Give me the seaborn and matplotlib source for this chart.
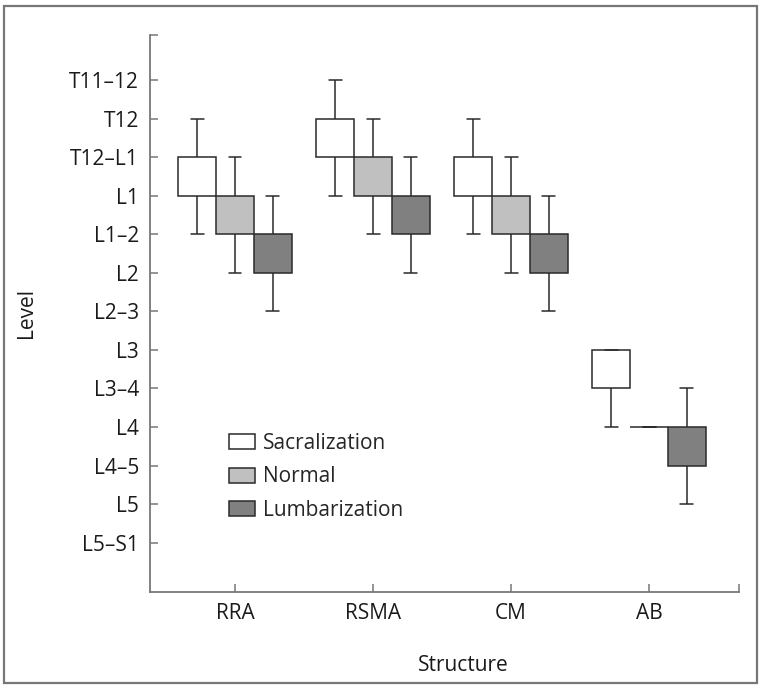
import numpy as np
import pandas as pd
import matplotlib.pyplot as plt
import seaborn as sns

LEVELS = ["T11–12", "T12", "T12–L1", "L1", "L1–2", "L2", "L2–3",
          "L3", "L3–4", "L4", "L4–5", "L5", "L5–S1"]
STRUCTURES = ["RRA", "RSMA", "CM", "AB"]
GROUPS = ["Sacralization", "Normal", "Lumbarization"]
COLORS = ["#ffffff", "#c0c0c0", "#808080"]

# per structure: upper whisker end, box top, box bottom, lower whisker end
sac_whisker_top = ["T12", "T11–12", "T12", "L3"]
sac_box_top = ["T12–L1", "T12", "T12–L1", "L3"]
sac_box_bottom = ["L1", "T12–L1", "L1", "L3–4"]
sac_whisker_bottom = ["L1–2", "L1", "L1–2", "L4"]

norm_whisker_top = ["T12–L1", "T12", "T12–L1", "L4"]
norm_box_top = ["L1", "T12–L1", "L1", "L4"]
norm_box_bottom = ["L1–2", "L1", "L1–2", "L4"]
norm_whisker_bottom = ["L2", "L1–2", "L2", "L4"]

lumb_whisker_top = ["L1", "T12–L1", "L1", "L3–4"]
lumb_box_top = ["L1–2", "L1", "L1–2", "L4"]
lumb_box_bottom = ["L2", "L1–2", "L2", "L4–5"]
lumb_whisker_bottom = ["L2–3", "L2", "L2–3", "L5"]

group_stats = {
    "Sacralization": (sac_whisker_top, sac_box_top, sac_box_bottom, sac_whisker_bottom),
    "Normal": (norm_whisker_top, norm_box_top, norm_box_bottom, norm_whisker_bottom),
    "Lumbarization": (lumb_whisker_top, lumb_box_top, lumb_box_bottom, lumb_whisker_bottom),
}

# rows whose quartiles / extremes reproduce the summary values above
rows = []
for g in GROUPS:
    wt, bt, bb, wb = group_stats[g]
    for i, s in enumerate(STRUCTURES):
        lo, q1, q3, hi = [LEVELS.index(v) for v in (wt[i], bt[i], bb[i], wb[i])]
        for v in (lo, q1, q1, q3, q3, hi):
            rows.append({"Structure": s, "Group": g, "Level": v})
df = pd.DataFrame(rows)

sns.set_style("white")
plt.rcParams["font.family"] = ["Open Sans", "DejaVu Sans"]

fig = plt.figure(figsize=(7.63, 6.88), dpi=100)
ax = fig.add_axes([150 / 763, 1 - 592 / 688, 589 / 763, 557 / 688])

sns.boxplot(data=df, x="Structure", y="Level", hue="Group", order=STRUCTURES,
            hue_order=GROUPS, palette=COLORS, saturation=1, width=0.82, gap=0,
            whis=(0, 100), showfliers=False, linecolor="#2a2a2a", linewidth=1.1,
            medianprops={"visible": False}, ax=ax)

# shorter caps like the reference
for ln in ax.lines:
    x = np.asarray(ln.get_xdata(), dtype=float)
    y = np.asarray(ln.get_ydata(), dtype=float)
    if len(x) == 2 and y[0] == y[1] and x[0] != x[1]:
        c = x.mean()
        ln.set_xdata([c - 0.047, c + 0.047])

ymin, ymax = -1.167, 13.28
ax.set_ylim(ymax, ymin)
ax.set_yticks([ymin] + list(range(len(LEVELS))))
ax.set_yticklabels([""] + LEVELS)
xmin, xmax = -0.616, 3.652
ax.set_xlim(xmin, xmax)
ax.set_xticks(list(range(len(STRUCTURES))) + [xmax])
ax.set_xticklabels(STRUCTURES + [""])

ax.tick_params(left=True, bottom=True, direction="in", length=6, width=1.1,
               color="#777777", labelsize=15, labelcolor="#1a1a1a", pad=8)
for side in ["top", "right"]:
    ax.spines[side].set_visible(False)
for side in ["left", "bottom"]:
    ax.spines[side].set_color("#777777")
    ax.spines[side].set_linewidth(1.3)

ax.set_xlabel("Structure", fontsize=15, color="#1a1a1a")
ax.xaxis.set_label_coords((463 - 150) / 589, -(655 - 592) / 557)
ax.set_ylabel("Level", fontsize=15, color="#1a1a1a")
ax.yaxis.set_label_coords(-(150 - 37) / 589, 0.5)

handles, labels = ax.get_legend_handles_labels()
ax.legend(handles, labels, loc="upper left",
          bbox_to_anchor=((229 - 150) / 589, (592 - 433) / 557),
          frameon=False, fontsize=15, handlelength=1.25, handleheight=0.75,
          handletextpad=0.4, labelspacing=0.6, borderpad=0, borderaxespad=0)

fig.add_artist(plt.Rectangle((4 / 763, 5 / 688), 753 / 763, 677 / 688,
                             transform=fig.transFigure, fill=False,
                             edgecolor="#777777", linewidth=1.6))

fig.savefig("out.png", dpi=100)
